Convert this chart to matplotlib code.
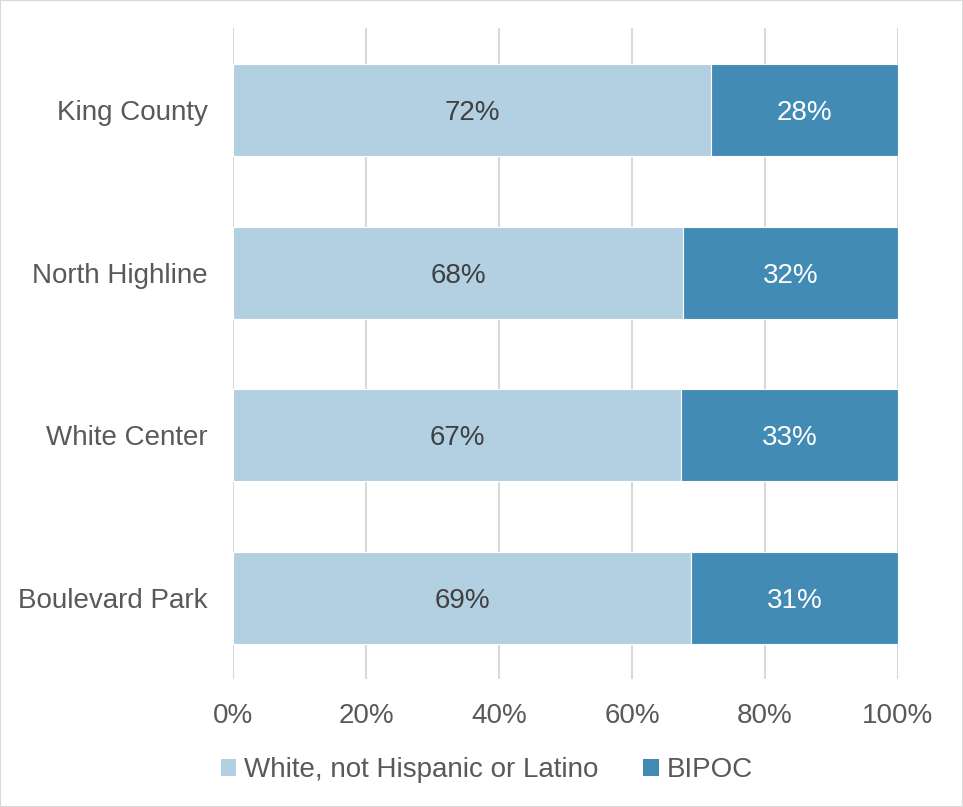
import matplotlib
matplotlib.use("Agg")
import matplotlib.pyplot as plt
from matplotlib.patches import Patch

categories = ["King County", "North Highline", "White Center", "Boulevard Park"]
white_vals = [71.9, 67.7, 67.4, 68.9]
bipoc_vals = [28.1, 32.3, 32.6, 31.1]
series_names = ["White, not Hispanic or Latino", "BIPOC"]
xticks = [0, 20, 40, 60, 80, 100]
xticklabels = ["0%", "20%", "40%", "60%", "80%", "100%"]

c_light = "#B2D0E1"
c_dark = "#428BB5"
txt = "#595959"

plt.rcParams['font.family'] = ['Liberation Sans', 'DejaVu Sans']

fig = plt.figure(figsize=(9.63, 8.07), dpi=100)
ax = fig.add_axes([0.242, 0.158, 0.6905, 0.8067])

y = list(range(len(categories)))
h = 0.565
ax.barh(y, white_vals, height=h, color=c_light, edgecolor="white", linewidth=0.8, zorder=3)
ax.barh(y, bipoc_vals, left=white_vals, height=h, color=c_dark, edgecolor="white", linewidth=0.8, zorder=3)

for i in range(len(categories)):
    ax.text(white_vals[i] / 2, i, f"{round(white_vals[i])}%", ha="center", va="center_baseline",
            fontsize=20, color="#404040", zorder=4)
    ax.text(white_vals[i] + bipoc_vals[i] / 2, i, f"{round(bipoc_vals[i])}%", ha="center",
            va="center_baseline", fontsize=20, color="white", zorder=4)

ax.set_ylim(len(categories) - 0.5, -0.5)
ax.set_xlim(0, 100)
ax.set_yticks(y)
ax.set_yticklabels(categories, fontsize=20, color=txt)
ax.set_xticks(xticks)
ax.set_xticklabels(xticklabels, fontsize=20, color=txt)
ax.tick_params(length=0)
ax.tick_params(axis="y", pad=18)
ax.tick_params(axis="x", pad=17)
for s in ax.spines.values():
    s.set_visible(False)
ax.xaxis.grid(True, color="#D9D9D9", linewidth=1.5, zorder=0)
ax.set_axisbelow(True)

handles = [Patch(facecolor=c_light), Patch(facecolor=c_dark)]
fig.legend(handles, series_names, loc="center", bbox_to_anchor=(487 / 963, 1 - 770 / 807),
           ncol=2, frameon=False, fontsize=20, labelcolor=txt,
           handlelength=0.55, handleheight=0.55, handletextpad=0.3, columnspacing=1.6)

fig.patches.append(plt.Rectangle((0, 0), 1, 1, transform=fig.transFigure, fill=False,
                                 edgecolor="#D9D9D9", linewidth=1.5))

fig.savefig("out.png", dpi=100)
